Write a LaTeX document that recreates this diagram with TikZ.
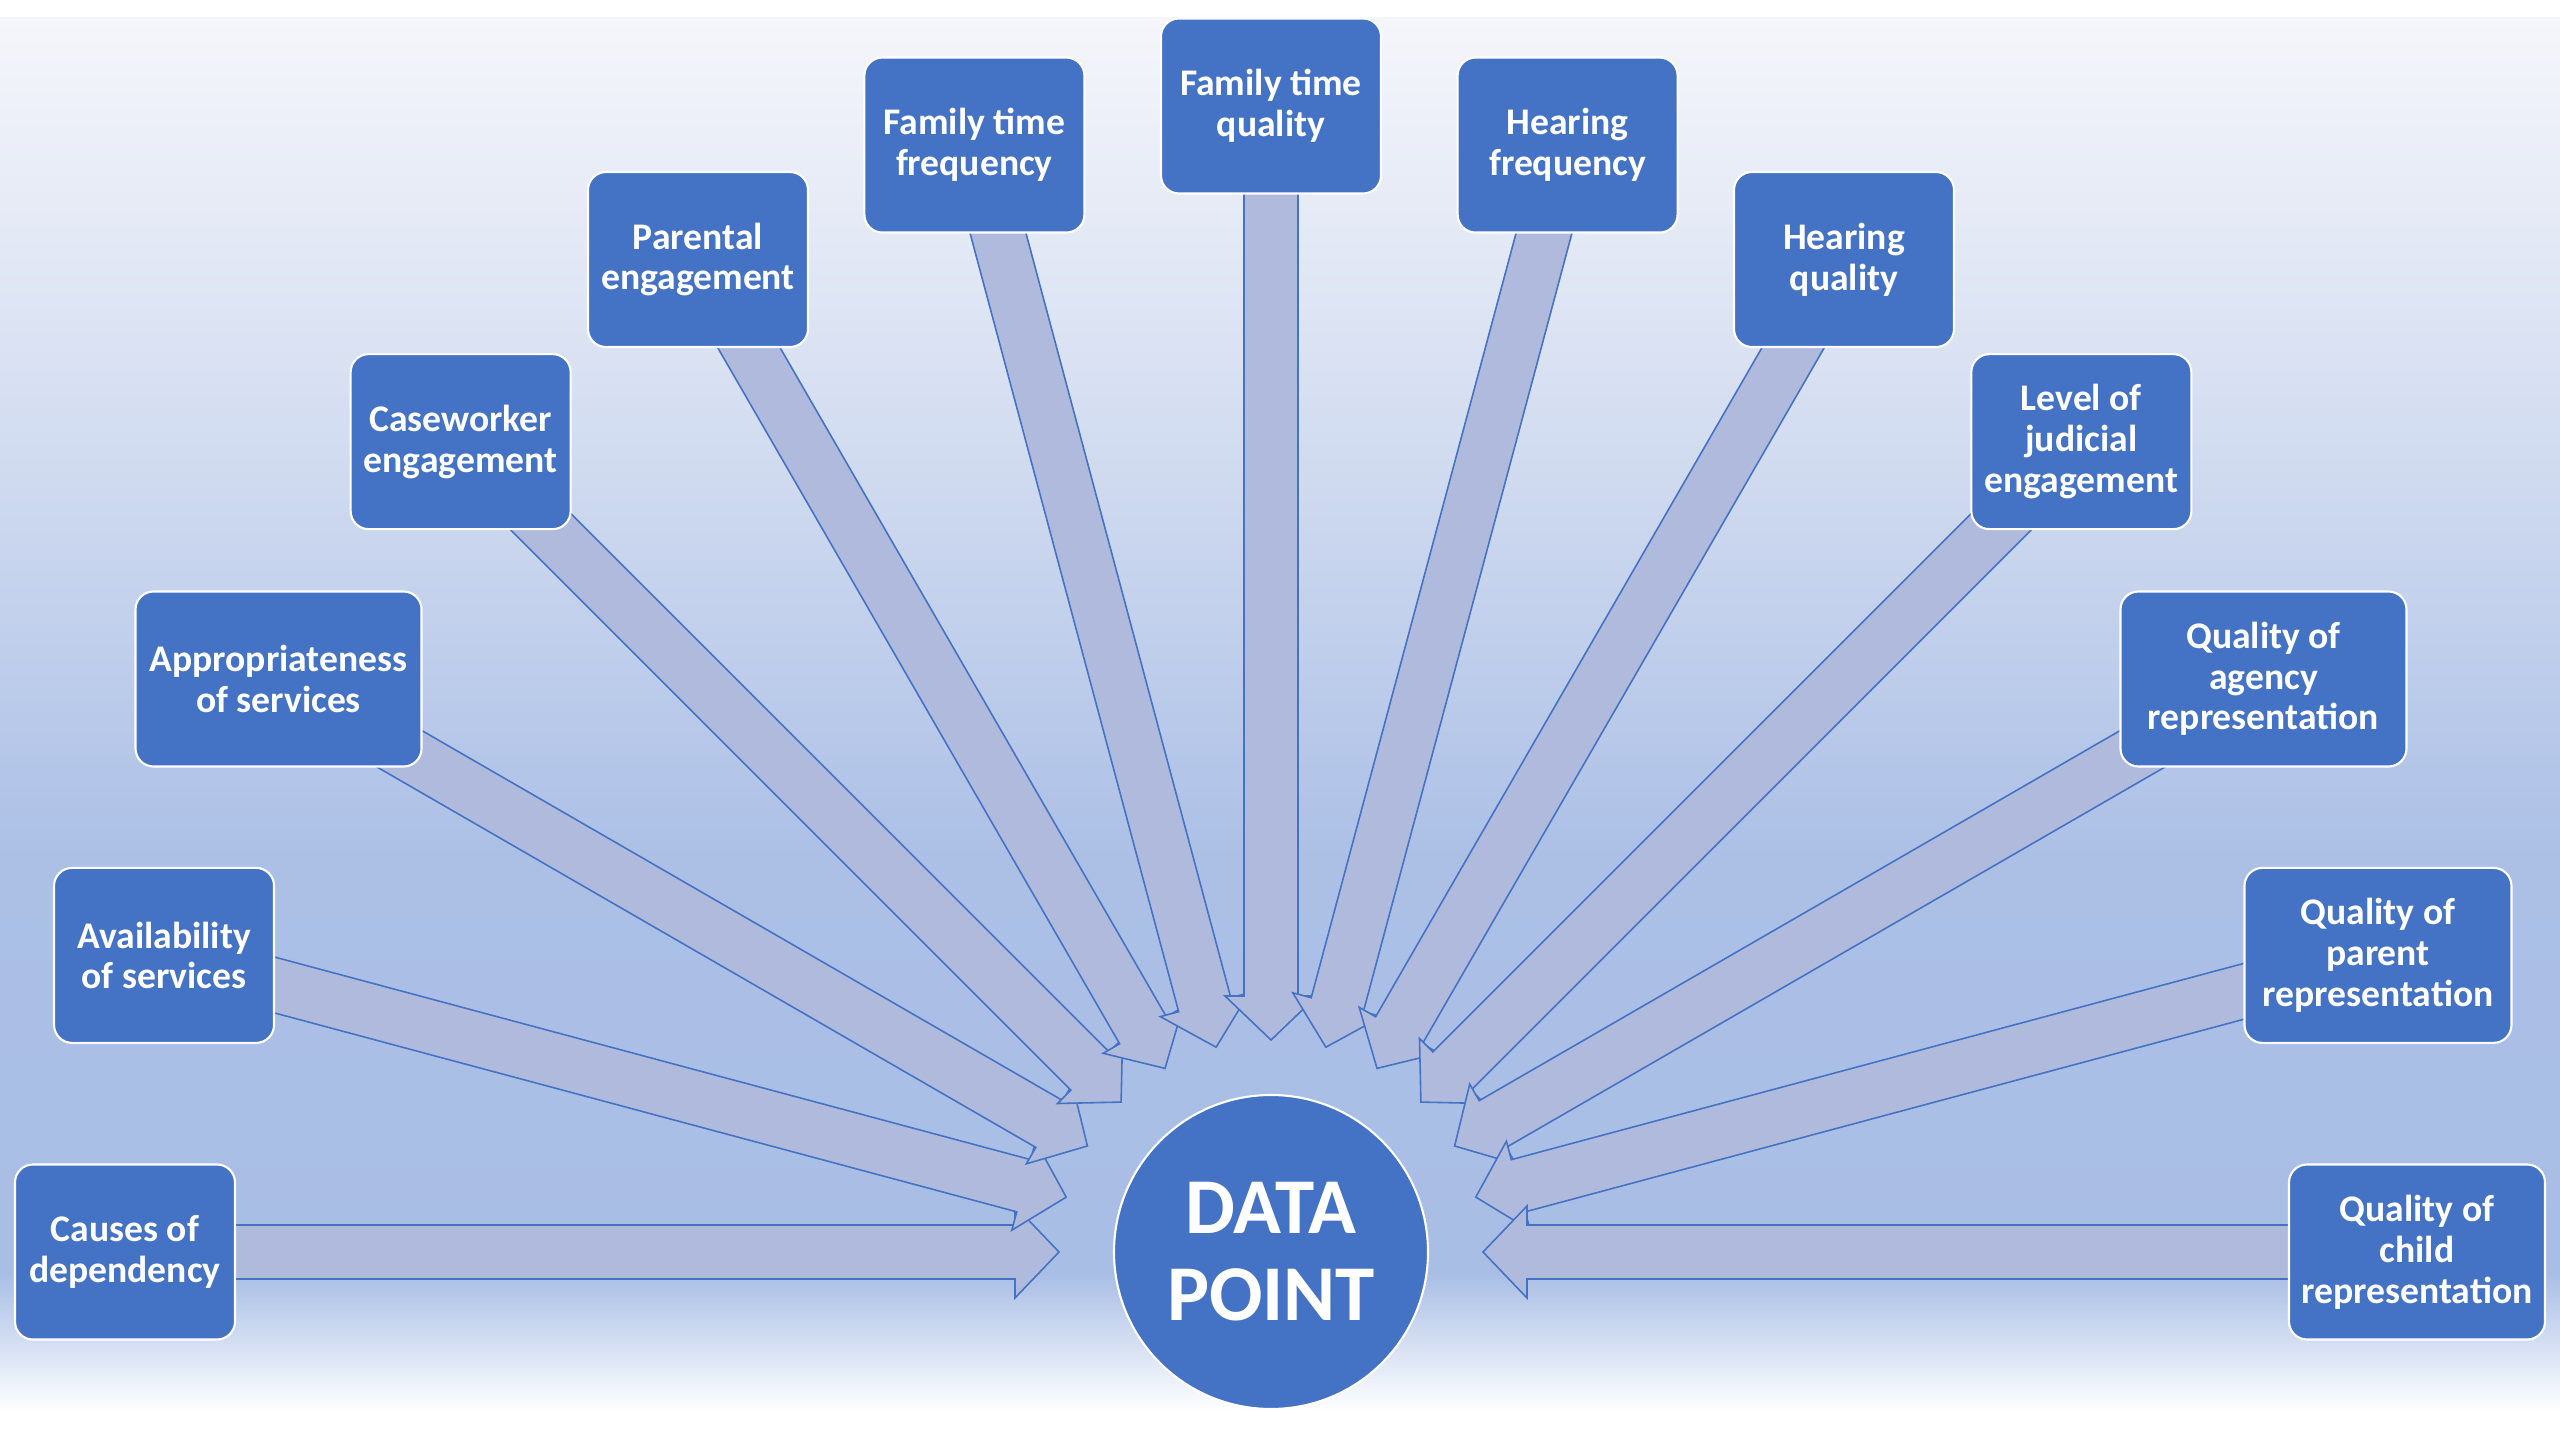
\documentclass[tikz,border=0pt]{standalone}
\usepackage{fontspec}
\setmainfont{Carlito}

\definecolor{boxblue}{RGB}{68,114,196}
\definecolor{arrowfill}{RGB}{175,186,221}
\definecolor{bgtop}{RGB}{245,246,251}
\definecolor{bgmid}{RGB}{210,220,240}
\definecolor{bgblue}{RGB}{172,192,230}
\definecolor{bglow}{RGB}{169,190,229}

\pgfdeclareverticalshading{backdrop}{100bp}{color(0bp)=(white); color(25bp)=(white); color(30bp)=(bglow); color(45bp)=(bgblue); color(59.5bp)=(bgmid); color(75bp)=(bgtop); color(100bp)=(bgtop)}

\tikzset{
  topic/.style={draw=white, line width=0.6pt, fill=boxblue, rounded corners=0.18cm, minimum width=2.2cm, minimum height=1.75cm, inner sep=0pt, align=center, text=white, font=\fontsize{10.7}{11.6}\selectfont\bfseries},
  blockarrow/.style={draw=boxblue, line width=0.45pt, fill=arrowfill, line join=miter}
}

\begin{document}
\begin{tikzpicture}
\useasboundingbox (0,0) rectangle (25.6,14.4);
\shade[shading=backdrop] (0,0.28) rectangle (25.6,14.22);
\coordinate (c) at (12.71,1.88);
% block arrows, clockwise, each one over the one before
\foreach \a in {180,165,...,0}
  \draw[blockarrow, shift={(c)}, rotate=\a] (11.46,0.27) -- (2.56,0.27) -- (2.56,0.46) -- (2.12,0) -- (2.56,-0.46) -- (2.56,-0.27) -- (11.46,-0.27) -- cycle;
\node[circle, draw=white, line width=0.6pt, fill=boxblue, minimum size=3.14cm, inner sep=0pt, text=white, align=center, font=\fontsize{22.5}{24.8}\selectfont\bfseries] (dp) at (c) {DATA\\POINT};
% topics on a half ring round the data point
\node[topic] (causes) at ([shift={(180:11.46)}]c) {Causes of\\dependency};
\node[topic] (avail) at ([shift={(165:11.46)}]c) {Availability\\of services};
\node[topic, minimum width=2.86cm] (approp) at ([shift={(150:11.46)}]c) {Appropriateness\\of services};
\node[topic] (casew) at ([shift={(135:11.46)}]c) {Caseworker\\engagement};
\node[topic] (parental) at ([shift={(120:11.46)}]c) {Parental\\engagement};
\node[topic] (ftfreq) at ([shift={(105:11.46)}]c) {Family time\\frequency};
\node[topic] (ftqual) at ([shift={(90:11.46)}]c) {Family time\\quality};
\node[topic] (hfreq) at ([shift={(75:11.46)}]c) {Hearing\\frequency};
\node[topic] (hqual) at ([shift={(60:11.46)}]c) {Hearing\\quality};
\node[topic] (judicial) at ([shift={(45:11.46)}]c) {Level of\\judicial\\engagement};
\node[topic, minimum width=2.86cm] (agency) at ([shift={(30:11.46)}]c) {Quality of\\agency\\representation};
\node[topic, minimum width=2.67cm] (parentrep) at ([shift={(15:11.46)}]c) {Quality of\\parent\\representation};
\node[topic, minimum width=2.56cm] (childrep) at ([shift={(0:11.46)}]c) {Quality of\\child\\representation};
\end{tikzpicture}
\end{document}
